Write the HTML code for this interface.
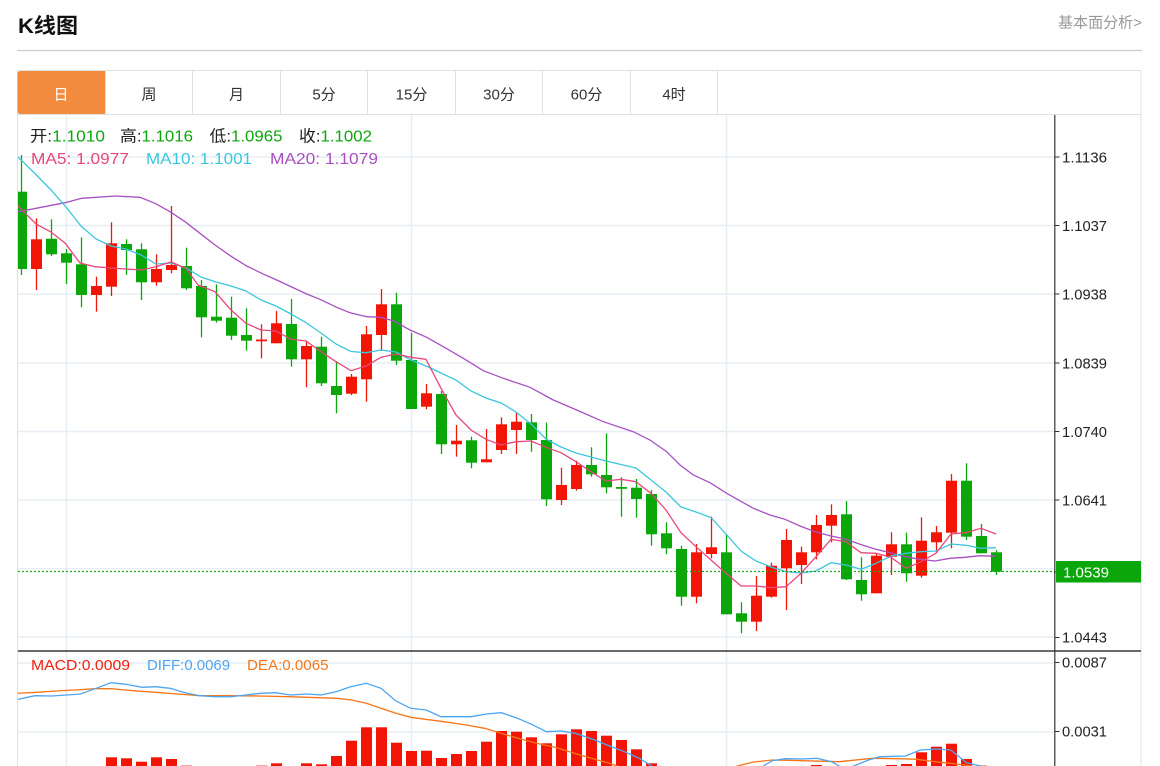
<!DOCTYPE html>
<html><head><meta charset="utf-8">
<style>
html,body{margin:0;padding:0;background:#fff;width:1160px;height:766px;overflow:hidden}
svg{display:block}
.G line{stroke:#0aa60a;stroke-width:1.3}
.G rect{fill:#0aa60a}
.R line{stroke:#f21505;stroke-width:1.3}
.R rect{fill:#f21505}
.grid line{stroke:#e6edf3;stroke-width:1.5}
text{font-family:"Liberation Sans","Noto Sans CJK SC",sans-serif}
</style></head>
<body>
<svg width="1160" height="766" viewBox="0 0 1160 766" xmlns="http://www.w3.org/2000/svg">
<defs>
<clipPath id="cm"><rect x="18" y="115" width="1037" height="535"/></clipPath>
<clipPath id="cd"><rect x="18" y="652" width="1037" height="114"/></clipPath>
</defs>
<rect width="1160" height="766" fill="#fff"/>

<!-- header -->
<text x="18" y="33" font-size="21" font-weight="bold" fill="#111" textLength="60" lengthAdjust="spacingAndGlyphs">K线图</text>
<text x="1058" y="27.5" font-size="15" fill="#999" textLength="84" lengthAdjust="spacingAndGlyphs">基本面分析&gt;</text>
<line x1="17" y1="50.5" x2="1142" y2="50.5" stroke="#cccccc" stroke-width="1.2"/>

<!-- chart box -->
<rect x="17.5" y="70.5" width="1123.5" height="700" fill="none" stroke="#e0e0e0" stroke-width="1"/>
<path d="M17.5 105 V74 Q17.5 71 20.5 71 H105 V114 H20.5 Q17.5 114 17.5 111 Z" fill="#f28b3e"/>
<line x1="17" y1="114.5" x2="1141" y2="114.5" stroke="#e0e0e0"/>
<g stroke="#e0e0e0">
<line x1="105.5" y1="71" x2="105.5" y2="114"/>
<line x1="192.5" y1="71" x2="192.5" y2="114"/>
<line x1="280.5" y1="71" x2="280.5" y2="114"/>
<line x1="367.5" y1="71" x2="367.5" y2="114"/>
<line x1="455.5" y1="71" x2="455.5" y2="114"/>
<line x1="542.5" y1="71" x2="542.5" y2="114"/>
<line x1="630.5" y1="71" x2="630.5" y2="114"/>
<line x1="717.5" y1="71" x2="717.5" y2="114"/>
</g>
<g font-size="15" fill="#333" text-anchor="middle">
<text x="61" y="99.5" fill="#fff">日</text>
<text x="149" y="99.5">周</text>
<text x="236.5" y="99.5">月</text>
<text x="324" y="99.5">5分</text>
<text x="411.5" y="99.5">15分</text>
<text x="499" y="99.5">30分</text>
<text x="586.5" y="99.5">60分</text>
<text x="674" y="99.5">4时</text>
</g>

<!-- grid -->
<g class="grid">
<line x1="18" y1="157" x2="1055" y2="157"/>
<line x1="18" y1="225.5" x2="1055" y2="225.5"/>
<line x1="18" y1="294" x2="1055" y2="294"/>
<line x1="18" y1="363" x2="1055" y2="363"/>
<line x1="18" y1="431.5" x2="1055" y2="431.5"/>
<line x1="18" y1="500" x2="1055" y2="500"/>
<line x1="18" y1="568.6" x2="1055" y2="568.6"/>
<line x1="18" y1="637" x2="1055" y2="637"/>
<line x1="18" y1="663" x2="1055" y2="663"/>
<line x1="18" y1="732" x2="1055" y2="732"/>
<line x1="66.5" y1="115" x2="66.5" y2="766"/>
<line x1="411.5" y1="115" x2="411.5" y2="766"/>
<line x1="726.5" y1="115" x2="726.5" y2="766"/>
</g>

<g clip-path="url(#cm)">
<g class="G">
<line x1="21.5" y1="155" x2="21.5" y2="275"/><rect x="16" y="191.7" width="11" height="77.3"/>
<line x1="51.5" y1="219.3" x2="51.5" y2="256"/><rect x="46" y="238.7" width="11" height="15.6"/>
<line x1="66.5" y1="249" x2="66.5" y2="284"/><rect x="61" y="253.3" width="11" height="9.4"/>
<line x1="81.5" y1="237.3" x2="81.5" y2="307.3"/><rect x="76" y="264.3" width="11" height="30.7"/>
<line x1="126.5" y1="239.3" x2="126.5" y2="275"/><rect x="121" y="244" width="11" height="6"/>
<line x1="141.5" y1="243.3" x2="141.5" y2="300"/><rect x="136" y="249.3" width="11" height="33"/>
<line x1="186.5" y1="247.7" x2="186.5" y2="290"/><rect x="181" y="266" width="11" height="22.3"/>
<line x1="201.5" y1="280" x2="201.5" y2="337.3"/><rect x="196" y="286" width="11" height="31.3"/>
<line x1="216.5" y1="284.3" x2="216.5" y2="322.7"/><rect x="211" y="316.7" width="11" height="4"/>
<line x1="231.5" y1="296.7" x2="231.5" y2="340"/><rect x="226" y="317.7" width="11" height="18"/>
<line x1="246.5" y1="308.3" x2="246.5" y2="350.7"/><rect x="241" y="335" width="11" height="5.7"/>
<line x1="291.5" y1="299" x2="291.5" y2="366.7"/><rect x="286" y="324" width="11" height="35.3"/>
<line x1="321.5" y1="336.7" x2="321.5" y2="386"/><rect x="316" y="346.7" width="11" height="36.6"/>
<line x1="336.5" y1="361" x2="336.5" y2="413.3"/><rect x="331" y="386" width="11" height="9"/>
<line x1="396.5" y1="292.7" x2="396.5" y2="365"/><rect x="391" y="304.3" width="11" height="56.4"/>
<line x1="411.5" y1="332.7" x2="411.5" y2="409"/><rect x="406" y="360" width="11" height="49"/>
<line x1="441.5" y1="391" x2="441.5" y2="454"/><rect x="436" y="394" width="11" height="50.3"/>
<line x1="471.5" y1="436.7" x2="471.5" y2="468.3"/><rect x="466" y="440.3" width="11" height="22.4"/>
<line x1="531.5" y1="414" x2="531.5" y2="451.7"/><rect x="526" y="422.3" width="11" height="17.7"/>
<line x1="546.5" y1="422.7" x2="546.5" y2="506"/><rect x="541" y="440" width="11" height="59.3"/>
<line x1="591.5" y1="447.3" x2="591.5" y2="476.7"/><rect x="586" y="465" width="11" height="9.3"/>
<line x1="606.5" y1="433.3" x2="606.5" y2="493.3"/><rect x="601" y="475" width="11" height="12.3"/>
<line x1="621.5" y1="477.3" x2="621.5" y2="516.7"/><rect x="616" y="487" width="11" height="1.8"/>
<line x1="636.5" y1="479" x2="636.5" y2="517.7"/><rect x="631" y="487.7" width="11" height="11.3"/>
<line x1="651.5" y1="490" x2="651.5" y2="545.7"/><rect x="646" y="494" width="11" height="40.3"/>
<line x1="666.5" y1="522.3" x2="666.5" y2="554.3"/><rect x="661" y="533.3" width="11" height="15"/>
<line x1="681.5" y1="545.7" x2="681.5" y2="605.7"/><rect x="676" y="549" width="11" height="47.7"/>
<line x1="726.5" y1="534.3" x2="726.5" y2="614.3"/><rect x="721" y="552.3" width="11" height="62"/>
<line x1="741.5" y1="602.3" x2="741.5" y2="633.3"/><rect x="736" y="613.3" width="11" height="8.4"/>
<line x1="846.5" y1="501" x2="846.5" y2="580"/><rect x="841" y="514.3" width="11" height="65"/>
<line x1="861.5" y1="557.3" x2="861.5" y2="600.7"/><rect x="856" y="580" width="11" height="14.3"/>
<line x1="906.5" y1="532.7" x2="906.5" y2="581.7"/><rect x="901" y="544.3" width="11" height="29"/>
<line x1="966.5" y1="463.3" x2="966.5" y2="540"/><rect x="961" y="480.7" width="11" height="56"/>
<line x1="981.5" y1="524" x2="981.5" y2="553.3"/><rect x="976" y="536" width="11" height="17.3"/>
<line x1="996.5" y1="550" x2="996.5" y2="575"/><rect x="991" y="552.3" width="11" height="19.4"/>
</g>
<g class="R">
<line x1="36.5" y1="218.3" x2="36.5" y2="290"/><rect x="31" y="239.3" width="11" height="29.7"/>
<line x1="96.5" y1="276.7" x2="96.5" y2="311.7"/><rect x="91" y="286" width="11" height="9"/>
<line x1="111.5" y1="222.3" x2="111.5" y2="296"/><rect x="106" y="243.3" width="11" height="43.4"/>
<line x1="156.5" y1="254.3" x2="156.5" y2="285.7"/><rect x="151" y="269" width="11" height="13.3"/>
<line x1="171.5" y1="206" x2="171.5" y2="273.3"/><rect x="166" y="265" width="11" height="5"/>
<line x1="261.5" y1="324.3" x2="261.5" y2="358.3"/><rect x="256" y="339.5" width="11" height="1.8"/>
<line x1="276.5" y1="311" x2="276.5" y2="343.3"/><rect x="271" y="323.3" width="11" height="20"/>
<line x1="306.5" y1="340.7" x2="306.5" y2="387.3"/><rect x="301" y="346" width="11" height="13.3"/>
<line x1="351.5" y1="374" x2="351.5" y2="395"/><rect x="346" y="376.7" width="11" height="17"/>
<line x1="366.5" y1="326" x2="366.5" y2="401.7"/><rect x="361" y="334.3" width="11" height="45"/>
<line x1="381.5" y1="289" x2="381.5" y2="351"/><rect x="376" y="304.3" width="11" height="30.7"/>
<line x1="426.5" y1="384" x2="426.5" y2="409.3"/><rect x="421" y="393.3" width="11" height="13.4"/>
<line x1="456.5" y1="425" x2="456.5" y2="456.7"/><rect x="451" y="440.7" width="11" height="3.6"/>
<line x1="486.5" y1="429" x2="486.5" y2="462.3"/><rect x="481" y="459.3" width="11" height="3"/>
<line x1="501.5" y1="417.3" x2="501.5" y2="454"/><rect x="496" y="424.3" width="11" height="25.7"/>
<line x1="516.5" y1="412.3" x2="516.5" y2="454"/><rect x="511" y="421.7" width="11" height="8.3"/>
<line x1="561.5" y1="467.7" x2="561.5" y2="505"/><rect x="556" y="485" width="11" height="15"/>
<line x1="576.5" y1="460.7" x2="576.5" y2="490.7"/><rect x="571" y="465" width="11" height="24"/>
<line x1="696.5" y1="544" x2="696.5" y2="603.3"/><rect x="691" y="552.3" width="11" height="44.4"/>
<line x1="711.5" y1="516.7" x2="711.5" y2="558.3"/><rect x="706" y="547.3" width="11" height="6.7"/>
<line x1="756.5" y1="576" x2="756.5" y2="631"/><rect x="751" y="595.7" width="11" height="26"/>
<line x1="771.5" y1="562.7" x2="771.5" y2="597.7"/><rect x="766" y="565.7" width="11" height="31"/>
<line x1="786.5" y1="529" x2="786.5" y2="610"/><rect x="781" y="540" width="11" height="28.3"/>
<line x1="801.5" y1="546.7" x2="801.5" y2="584"/><rect x="796" y="552.3" width="11" height="12.7"/>
<line x1="816.5" y1="515" x2="816.5" y2="559.3"/><rect x="811" y="525" width="11" height="27.3"/>
<line x1="831.5" y1="504.3" x2="831.5" y2="542.3"/><rect x="826" y="515" width="11" height="10.7"/>
<line x1="876.5" y1="553.3" x2="876.5" y2="593.3"/><rect x="871" y="555.7" width="11" height="37.6"/>
<line x1="891.5" y1="532.3" x2="891.5" y2="575"/><rect x="886" y="544.3" width="11" height="12.4"/>
<line x1="921.5" y1="517.3" x2="921.5" y2="577.7"/><rect x="916" y="540.7" width="11" height="35"/>
<line x1="936.5" y1="526" x2="936.5" y2="552.7"/><rect x="931" y="532.3" width="11" height="10"/>
<line x1="951.5" y1="474" x2="951.5" y2="548.3"/><rect x="946" y="480.7" width="11" height="52"/>
</g>

<!-- MA20 -->
<polyline fill="none" stroke="#a84fc2" stroke-width="1.3" points="17,212 65,202.7 81.7,198.3 115,196 140,197.3 155,203.3 170,211.7 185,221.7 200,233.3 215,245 231.7,256.7 246.7,266 261.7,273.3 276.7,280 306.7,294 320,299.3 336.7,307.3 350,312.7 366.7,316.7 380,317.3 393.3,320.7 410,330 426.7,337.3 443.3,346.7 463.3,358.3 483.3,370.7 503.3,378.3 530,387.3 553.3,400 576.7,410 603.3,421.7 633.3,431.7 650,440 666.7,451.7 680,465 693.3,475 710,482.7 726.7,493.3 753.3,508.3 770,515 785,519.3 800,526 815,531.7 830,535.7 845,539 860,544.3 875,549 890,552.7 905,556.7 920,559.3 935,561 950,558.3 965,557.3 980,555.7 995,556.3"/>
<!-- MA10 -->
<polyline fill="none" stroke="#3cc6de" stroke-width="1.3" points="17,156 35,173.5 51,190 66,207 81,226 96,239 111,246 126,249 141,255 156,264 171,263 186,268 201,277 216,282 231,286 246,291 261,300 276,306 291,314 306,322.7 321,333 336,344 351,351.5 366,352.7 381,350 396,352 411,360 426,366 441,373 456,380 471,391 486,398 501,403 516,412 531,424 546,439 561,447 576,453 591,457 606,461 621,464.5 636,468 651,480 666,492 681,507 696,512 711,517.5 726,534 741,551 756,561 771,567 786,571.7 801,573 816,571 831,562.7 846,565 861,569.3 876,563.3 891,556 906,553.3 921,551.7 936,551 951,544 966,545.3 981,548.3 996,547.7"/>
<!-- MA5 -->
<polyline fill="none" stroke="#e8467c" stroke-width="1.3" points="17,205 36,224 51,232 65,243 80,263 95,266.7 111,268 126,269 141,270 156,266.7 171,262 186,268.3 198,285 215,291.7 231,310 246,323.3 261,330 276,331 291,339.3 306,341 321,351.7 336,361.7 351,370.7 366,366 381,357.3 396,354 411,357.3 426,359.3 441,388.3 456,415 471,430 486,439.3 501,445 516,441.7 531,441 546,447.3 561,452.7 576,461.7 591,471.7 606,481 621,479.3 636,481.7 651,493.3 666,510 681,532.7 696,546.7 711,560 726,573.3 741,586 756,586 771,587.7 786,586.7 801,573.3 816,556.7 831,539.3 846,541.7 861,552.7 876,553.3 891,557.3 906,568.3 921,561.7 936,553.3 951,534 966,532.7 981,528.3 996,534"/>

<line x1="18" y1="571.5" x2="1055" y2="571.5" stroke="#1aa61a" stroke-width="1.3" stroke-dasharray="2 2"/>
</g>

<!-- MACD -->
<g clip-path="url(#cd)">
<g fill="#f21505">
<rect x="106" y="757.3" width="11" height="13"/>
<rect x="121" y="758.3" width="11" height="12"/>
<rect x="136" y="761.7" width="11" height="9"/>
<rect x="151" y="757.3" width="11" height="13"/>
<rect x="166" y="759" width="11" height="11"/>
<rect x="181" y="765" width="11" height="5" fill="#f7a59c"/>
<rect x="256" y="765" width="11" height="5" fill="#f7a59c"/>
<rect x="271" y="763.3" width="11" height="7"/>
<rect x="301" y="763.3" width="11" height="7"/>
<rect x="316" y="764.3" width="11" height="6"/>
<rect x="331" y="756" width="11" height="14"/>
<rect x="346" y="740.7" width="11" height="30"/>
<rect x="361" y="727.3" width="11" height="43"/>
<rect x="376" y="727.3" width="11" height="43"/>
<rect x="391" y="742.7" width="11" height="28"/>
<rect x="406" y="751" width="11" height="19"/>
<rect x="421" y="750.7" width="11" height="20"/>
<rect x="436" y="758" width="11" height="12"/>
<rect x="451" y="754" width="11" height="16"/>
<rect x="466" y="751" width="11" height="19"/>
<rect x="481" y="741.7" width="11" height="29"/>
<rect x="496" y="731" width="11" height="39"/>
<rect x="511" y="731.7" width="11" height="39"/>
<rect x="526" y="737.3" width="11" height="33"/>
<rect x="541" y="743.3" width="11" height="27"/>
<rect x="556" y="734.3" width="11" height="36"/>
<rect x="571" y="729.3" width="11" height="41"/>
<rect x="586" y="731" width="11" height="39"/>
<rect x="601" y="735.7" width="11" height="35"/>
<rect x="616" y="740" width="11" height="30"/>
<rect x="631" y="749.3" width="11" height="21"/>
<rect x="646" y="763.3" width="11" height="7"/>
<rect x="811" y="765" width="11" height="5"/>
<rect x="886" y="765" width="11" height="5"/>
<rect x="901" y="764" width="11" height="6"/>
<rect x="916" y="752.3" width="11" height="18"/>
<rect x="931" y="746.7" width="11" height="24"/>
<rect x="946" y="743.7" width="11" height="27"/>
<rect x="961" y="759" width="11" height="11"/>
<rect x="976" y="765" width="11" height="5" fill="#f7a59c"/>
</g>
<polyline fill="none" stroke="#f5761a" stroke-width="1.3" points="17,693.3 37,692.3 55.5,691 74,690 96.2,688.7 111,688.7 133.2,690.7 155.4,692.3 177.6,694 199.8,695.7 229.4,695.7 259,696 288.6,696.7 318.2,697.7 336.7,698.3 351.5,700 366.3,703.3 381,708.3 395.9,713.3 410.7,717.3 425.5,719.3 444,721.7 466.2,725 484.6,728.3 499.4,732.7 518,738.3 536.4,743.3 555,747.3 569.7,751.7 580,755 594.8,759.3 609.6,763.3 617,766 625,770 730,770 737.2,766 753.9,762 772.4,760 802,760.7 839,761.7 872.3,758.3 898.2,758.7 916.7,759.3 935.2,761.7 950,763.3 964.8,765 972,766 980,769"/>
<polyline fill="none" stroke="#4ea5ef" stroke-width="1.3" points="17,699.5 35,695.7 51.8,696 66.6,695 80.6,694 96.2,688.3 111,682.7 125.8,684.3 142.4,687.3 155.4,686.7 170.2,688.3 185,692.7 199.8,695.7 214.6,696.7 231.2,696.7 246,695 260.8,693.3 275.6,692.7 290.4,695 306.3,694 321.1,695 336,691.7 350.7,686.7 366.3,683.3 381,688.3 395.9,701 410.7,708.3 426.2,710 441,716.7 456.2,716.7 471,716.7 486.5,714 501.3,712.7 516.1,717.7 531.6,724.3 546.4,731.7 561.2,731 575.3,733.3 594.8,740 609.6,746 624.4,751.7 639.2,758.3 650.3,765 658,771 757,771 765,765 772.4,760.7 785.3,758.7 802,759 816.8,758.3 831.6,761.7 839,766 845,768 853.8,766 868.6,760 879.7,756.7 905.6,756 920.4,750 936,749 950.7,750 961,758.3 966.6,762.7 979.6,765.7 990,770"/>
</g>

<!-- separator & axis -->
<line x1="18" y1="651" x2="1141" y2="651" stroke="#111" stroke-width="1.2"/>
<line x1="1054.8" y1="115" x2="1054.8" y2="766" stroke="#333" stroke-width="1.2"/>
<g stroke="#333" stroke-width="1">
<line x1="1055" y1="157" x2="1059.5" y2="157"/>
<line x1="1055" y1="225.5" x2="1059.5" y2="225.5"/>
<line x1="1055" y1="294" x2="1059.5" y2="294"/>
<line x1="1055" y1="363" x2="1059.5" y2="363"/>
<line x1="1055" y1="431.5" x2="1059.5" y2="431.5"/>
<line x1="1055" y1="500" x2="1059.5" y2="500"/>
<line x1="1055" y1="572" x2="1059.5" y2="572"/>
<line x1="1055" y1="637.5" x2="1059.5" y2="637.5"/>
<line x1="1055" y1="662.5" x2="1059.5" y2="662.5"/>
<line x1="1055" y1="731.5" x2="1059.5" y2="731.5"/>
</g>
<rect x="1056" y="561" width="85" height="21.5" fill="#0aa60a"/>
<g font-size="14.5" fill="#222">
<text x="1062" y="162.3" textLength="45" lengthAdjust="spacingAndGlyphs">1.1136</text>
<text x="1062" y="231" textLength="45" lengthAdjust="spacingAndGlyphs">1.1037</text>
<text x="1062" y="299.5" textLength="45" lengthAdjust="spacingAndGlyphs">1.0938</text>
<text x="1062" y="368.5" textLength="45" lengthAdjust="spacingAndGlyphs">1.0839</text>
<text x="1062" y="437" textLength="45" lengthAdjust="spacingAndGlyphs">1.0740</text>
<text x="1062" y="505.5" textLength="45" lengthAdjust="spacingAndGlyphs">1.0641</text>
<text x="1063" y="577.3" fill="#fff" textLength="46" lengthAdjust="spacingAndGlyphs">1.0539</text>
<text x="1062" y="642.7" textLength="45" lengthAdjust="spacingAndGlyphs">1.0443</text>
<text x="1062" y="667.7" textLength="45" lengthAdjust="spacingAndGlyphs">0.0087</text>
<text x="1062" y="736.7" textLength="45" lengthAdjust="spacingAndGlyphs">0.0031</text>
</g>

<!-- legends -->
<g font-size="16">
<text x="30" y="141.5" textLength="75" lengthAdjust="spacingAndGlyphs"><tspan fill="#222">开:</tspan><tspan fill="#0aa60a">1.1010</tspan></text>
<text x="120" y="141.5" textLength="73" lengthAdjust="spacingAndGlyphs"><tspan fill="#222">高:</tspan><tspan fill="#0aa60a">1.1016</tspan></text>
<text x="209.5" y="141.5" textLength="73" lengthAdjust="spacingAndGlyphs"><tspan fill="#222">低:</tspan><tspan fill="#0aa60a">1.0965</tspan></text>
<text x="299" y="141.5" textLength="73" lengthAdjust="spacingAndGlyphs"><tspan fill="#222">收:</tspan><tspan fill="#0aa60a">1.1002</tspan></text>
<text x="31" y="164" fill="#e8467c" textLength="98" lengthAdjust="spacingAndGlyphs">MA5: 1.0977</text>
<text x="146" y="164" fill="#3cc6de" textLength="106" lengthAdjust="spacingAndGlyphs">MA10: 1.1001</text>
<text x="270" y="164" fill="#a84fc2" textLength="108" lengthAdjust="spacingAndGlyphs">MA20: 1.1079</text>
</g>
<g font-size="15">
<text x="31" y="670" fill="#f21f0f" textLength="99" lengthAdjust="spacingAndGlyphs">MACD:0.0009</text>
<text x="147" y="670" fill="#4ea5ef" textLength="83" lengthAdjust="spacingAndGlyphs">DIFF:0.0069</text>
<text x="247" y="670" fill="#f5761a" textLength="81.5" lengthAdjust="spacingAndGlyphs">DEA:0.0065</text>
</g>
</svg>
</body></html>
